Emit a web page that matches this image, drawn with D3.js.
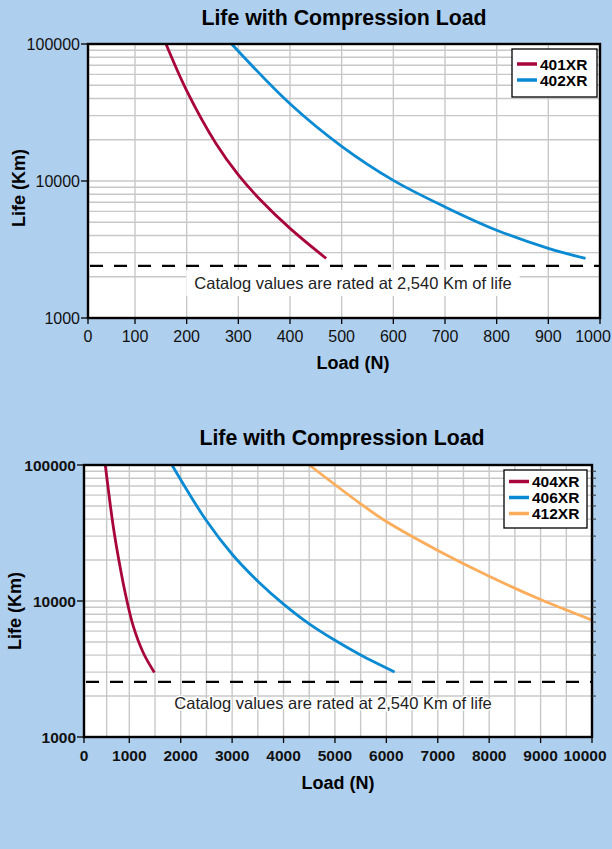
<!DOCTYPE html>
<html>
<head>
<meta charset="utf-8">
<script src="https://cdnjs.cloudflare.com/ajax/libs/d3/7.8.5/d3.min.js"></script>
<style>
body { margin: 0; background: #aecfee; }
svg { display: block; font-family: "Liberation Sans", Arial, sans-serif; }
</style>
</head>
<body>
<script>
//Top chart data (load in N, life in Km)
var topLoadTicks = [0, 100, 200, 300, 400, 500, 600, 700, 800, 900, 1000];
var topLifeTicks = [1000, 10000, 100000];
var load401 = [160, 200, 257, 300, 341, 400, 470];
var life401 = [100000, 45700, 18700, 11070, 7390, 4510, 2720];
var load402 = [287, 400, 500, 600, 700, 800, 900, 972];
var life402 = [100000, 36600, 17900, 10100, 6470, 4375, 3220, 2720];
var topCatalog = 2400;

//Bottom chart data
var botLoadTicks = [0, 1000, 2000, 3000, 4000, 5000, 6000, 7000, 8000, 9000, 10000];
var botLoadGrid = [500, 1000, 1500, 2000, 2500, 3000, 3500, 4000, 4500, 5000, 5500, 6000, 6500, 7000, 7500, 8000, 8500, 9000, 9500];
var botLifeTicks = [1000, 10000, 100000];
var load404 = [470, 646, 794, 941, 1077, 1269, 1488];
var life404 = [100000, 35300, 18000, 10250, 6530, 4180, 2980];
var load406 = [1830, 2488, 3000, 3520, 4000, 4500, 5000, 5500, 6160];
var life406 = [100000, 39550, 22080, 13750, 9490, 6790, 5140, 4010, 3010];
var load412 = [4500, 5480, 6000, 7000, 8000, 9000, 10000];
var life412 = [100000, 52500, 38400, 23550, 15200, 10250, 7240];
var botCatalog = 2540;

//Minor log gridlines
var lifeGrid = [2000, 3000, 4000, 5000, 6000, 7000, 8000, 9000, 10000,
  20000, 30000, 40000, 50000, 60000, 70000, 80000, 90000];

var catalogText = "Catalog values are rated at 2,540 Km of life";

var svg = d3.select("body")
    .append("svg")
    .attr("width", 612)
    .attr("height", 849);

function drawChart(cfg) {
  var x = d3.scaleLinear().domain(cfg.xDomain).range(cfg.xRange);
  var y = d3.scaleLog().domain([1000, 100000]).range([cfg.bottom, cfg.top]);
  var left = cfg.xRange[0], right = cfg.xRange[cfg.xRange.length - 1];
  var xMax = cfg.xDomain[cfg.xDomain.length - 1];
  var g = svg.append("g");

  //Plot background
  g.append("rect")
      .attr("x", left).attr("y", cfg.top)
      .attr("width", right - left).attr("height", cfg.bottom - cfg.top)
      .attr("fill", "#fff");

  //Gridlines
  g.append("g").selectAll("line")
      .data(cfg.xGrid.filter(function(d) { return d > 0 && d < xMax; }))
      .enter().append("line")
      .attr("x1", function(d) { return x(d); }).attr("x2", function(d) { return x(d); })
      .attr("y1", cfg.top).attr("y2", cfg.bottom)
      .attr("stroke", "#c8c8c8").attr("stroke-width", 1.4);
  g.append("g").selectAll("line")
      .data(lifeGrid)
      .enter().append("line")
      .attr("x1", left).attr("x2", right)
      .attr("y1", function(d) { return y(d); }).attr("y2", function(d) { return y(d); })
      .attr("stroke", "#c8c8c8").attr("stroke-width", 1.4);

  //Catalog line
  g.append("line")
      .attr("x1", left + 2).attr("x2", right)
      .attr("y1", y(cfg.catalog)).attr("y2", y(cfg.catalog))
      .attr("stroke", "#000").attr("stroke-width", 2.2)
      .attr("stroke-dasharray", "13,11");

  //Catalog label
  var label = g.append("text")
      .attr("x", cfg.noteX).attr("y", cfg.noteY)
      .attr("text-anchor", "middle")
      .attr("font-size", "16.5px")
      .attr("fill", "#222")
      .text(catalogText);
  if (cfg.noteBox) {
    var bb = label.node().getBBox();
    g.insert("rect", "text")
        .attr("x", bb.x - 8).attr("y", bb.y - 4)
        .attr("width", bb.width + 16).attr("height", bb.height + 8)
        .attr("fill", "#fff");
  } else {
    label.attr("stroke", "#fff").attr("stroke-width", 3)
        .attr("paint-order", "stroke").attr("stroke-linejoin", "round");
  }

  //Curves
  var line = d3.line()
      .x(function(d) { return x(d[0]); })
      .y(function(d) { return y(d[1]); })
      .curve(d3.curveCatmullRom.alpha(0.5));
  cfg.series.forEach(function(s) {
    g.append("path")
        .datum(d3.zip(s.load, s.life))
        .attr("d", line)
        .attr("fill", "none")
        .attr("stroke", s.color)
        .attr("stroke-width", 2.8);
  });

  //Frame
  g.append("rect")
      .attr("x", left).attr("y", cfg.top)
      .attr("width", right - left).attr("height", cfg.bottom - cfg.top)
      .attr("fill", "none").attr("stroke", "#000").attr("stroke-width", 2.4);

  //X ticks and labels
  g.append("g").selectAll("line")
      .data(cfg.xTicks)
      .enter().append("line")
      .attr("x1", function(d) { return x(d); }).attr("x2", function(d) { return x(d); })
      .attr("y1", cfg.bottom).attr("y2", cfg.bottom + 6)
      .attr("stroke", "#000").attr("stroke-width", 1.3);
  g.append("g").selectAll("text")
      .data(cfg.xTicks)
      .enter().append("text")
      .attr("x", function(d) { return x(d); })
      .attr("dx", function(d) { return d === xMax ? cfg.lastDx : 0; })
      .attr("y", cfg.bottom + 24)
      .attr("text-anchor", "middle")
      .attr("font-size", cfg.tickSize)
      .attr("font-weight", cfg.tickWeight)
      .attr("fill", "#111")
      .text(function(d) { return d; });

  //Y ticks and labels
  g.append("g").selectAll("line")
      .data(cfg.yTicks)
      .enter().append("line")
      .attr("x1", left - 7).attr("x2", left)
      .attr("y1", function(d) { return y(d); }).attr("y2", function(d) { return y(d); })
      .attr("stroke", "#000").attr("stroke-width", 1.3);
  g.append("g").selectAll("text")
      .data(cfg.yTicks)
      .enter().append("text")
      .attr("x", left - 8)
      .attr("y", function(d) { return y(d) + 5.5; })
      .attr("text-anchor", "end")
      .attr("font-size", cfg.tickSize)
      .attr("font-weight", cfg.tickWeight)
      .attr("fill", "#111")
      .text(function(d) { return d; });

  //Right side minor ticks
  if (cfg.rightTicks) {
    g.append("g").selectAll("line")
        .data(lifeGrid)
        .enter().append("line")
        .attr("x1", right).attr("x2", right + 4)
        .attr("y1", function(d) { return y(d); }).attr("y2", function(d) { return y(d); })
        .attr("stroke", "#333").attr("stroke-width", 1);
  }

  //Titles
  g.append("text")
      .attr("x", cfg.titleX).attr("y", cfg.titleY)
      .attr("text-anchor", "middle")
      .attr("font-size", "21.3px").attr("font-weight", "bold")
      .text("Life with Compression Load");
  g.append("text")
      .attr("x", cfg.xTitleX).attr("y", cfg.xTitleY)
      .attr("text-anchor", "middle")
      .attr("font-size", "18px").attr("font-weight", "bold")
      .text("Load (N)");
  g.append("text")
      .attr("transform", "translate(" + cfg.yTitleX + "," + cfg.yTitleY + ") rotate(-90)")
      .attr("text-anchor", "middle")
      .attr("font-size", "18px").attr("font-weight", "bold")
      .text("Life (Km)");

  //Legend
  var lg = g.append("g");
  lg.append("rect")
      .attr("x", cfg.legend.x).attr("y", cfg.legend.y)
      .attr("width", cfg.legend.w).attr("height", cfg.legend.h)
      .attr("fill", "#fff").attr("stroke", "#000").attr("stroke-width", 1.3);
  cfg.series.forEach(function(s, i) {
    var ly = cfg.legend.y + cfg.legend.first + i * 16;
    lg.append("line")
        .attr("x1", cfg.legend.x + 5).attr("x2", cfg.legend.x + 25)
        .attr("y1", ly).attr("y2", ly)
        .attr("stroke", s.color).attr("stroke-width", 3.5);
    lg.append("text")
        .attr("x", cfg.legend.x + 28).attr("y", ly + 5.5)
        .attr("font-size", "15.5px").attr("font-weight", "bold")
        .text(s.name);
  });
}

//Top chart
drawChart({
  xDomain: [0, 100, 1000], xRange: [88, 135, 600],
  top: 44, bottom: 318,
  xTicks: topLoadTicks, xGrid: topLoadTicks, yTicks: topLifeTicks,
  tickSize: "16px", tickWeight: "normal", lastDx: -7,
  catalog: topCatalog, noteX: 353, noteY: 289, noteBox: true,
  titleX: 344, titleY: 25, xTitleX: 353, xTitleY: 369, yTitleX: 25, yTitleY: 188,
  rightTicks: false,
  legend: {x: 512, y: 49, w: 85, h: 48, first: 15},
  series: [
    {name: "401XR", load: load401, life: life401, color: "#a8063a"},
    {name: "402XR", load: load402, life: life402, color: "#0a8ad2"}
  ]
});

//Bottom chart
drawChart({
  xDomain: [0, 1000, 10000], xRange: [84, 129.3, 592],
  top: 465, bottom: 737,
  xTicks: botLoadTicks, xGrid: botLoadGrid, yTicks: botLifeTicks,
  tickSize: "15.5px", tickWeight: "bold", lastDx: -7,
  catalog: botCatalog, noteX: 333, noteY: 709, noteBox: false,
  titleX: 342, titleY: 445, xTitleX: 338, xTitleY: 789, yTitleX: 21, yTitleY: 611,
  rightTicks: true,
  legend: {x: 504, y: 470, w: 83, h: 58, first: 11.5},
  series: [
    {name: "404XR", load: load404, life: life404, color: "#a8063a"},
    {name: "406XR", load: load406, life: life406, color: "#0a8ad2"},
    {name: "412XR", load: load412, life: life412, color: "#fbad5c"}
  ]
});
</script>
</body>
</html>
